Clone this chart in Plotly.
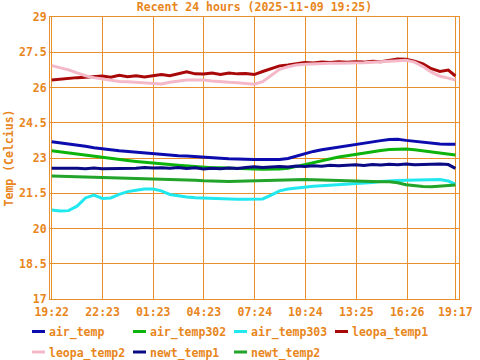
import plotly.graph_objects as go
from datetime import datetime, timedelta

# ---------------- data ----------------
TITLE = "Recent 24 hours (2025-11-09 19:25)"
START = datetime(2025, 11, 8, 19, 22)
# sample times (hours after start)
SAMPLE_HOURS = [i * 0.5 for i in range(48)] + [23.92]

air_temp = [
    23.69, 23.65, 23.60, 23.55, 23.50, 23.44, 23.38,
    23.35, 23.31, 23.28, 23.24, 23.20, 23.16, 23.14,
    23.12, 23.10, 23.08, 23.05, 23.03, 23.01, 22.99,
    22.97, 22.95, 22.94, 22.94, 22.94, 22.94, 22.94,
    22.98, 23.08, 23.21, 23.28, 23.35, 23.41, 23.47,
    23.53, 23.59, 23.64, 23.69, 23.74, 23.79, 23.80,
    23.75, 23.71, 23.67, 23.63, 23.60, 23.59, 23.58,
]
air_temp302 = [
    23.31, 23.26, 23.21, 23.17, 23.12, 23.07, 23.03,
    22.98, 22.94, 22.89, 22.85, 22.81, 22.78, 22.75,
    22.72, 22.69, 22.66, 22.63, 22.61, 22.59, 22.58,
    22.56, 22.55, 22.54, 22.53, 22.52, 22.52, 22.53,
    22.56, 22.64, 22.75, 22.83, 22.90, 22.97, 23.04,
    23.10, 23.16, 23.22, 23.27, 23.32, 23.36, 23.38,
    23.38, 23.35, 23.31, 23.27, 23.22, 23.18, 23.13,
]
air_temp303 = [
    20.79, 20.74, 20.76, 20.95, 21.30, 21.42, 21.28,
    21.30, 21.45, 21.57, 21.63, 21.68, 21.68, 21.60,
    21.45, 21.38, 21.34, 21.31, 21.29, 21.27, 21.25,
    21.24, 21.24, 21.24, 21.24, 21.26, 21.42, 21.60,
    21.68, 21.73, 21.77, 21.80, 21.82, 21.84, 21.86,
    21.88, 21.89, 21.92, 21.96, 22.00, 22.03, 22.04,
    22.05, 22.06, 22.08, 22.09, 22.08, 22.02, 21.89,
]
leopa_temp1 = [
    26.32, 26.36, 26.40, 26.42, 26.44, 26.47, 26.49,
    26.44, 26.52, 26.46, 26.50, 26.45, 26.49, 26.55,
    26.50, 26.58, 26.67, 26.58, 26.57, 26.62, 26.55,
    26.62, 26.58, 26.60, 26.55, 26.68, 26.80, 26.92,
    26.96, 27.02, 27.06, 27.04, 27.08, 27.06, 27.10,
    27.07, 27.10, 27.08, 27.12, 27.10, 27.15, 27.21,
    27.20, 27.12, 27.00, 26.80, 26.68, 26.74, 26.49,
]
leopa_temp2 = [
    26.93, 26.85, 26.75, 26.62, 26.50, 26.42, 26.36,
    26.30, 26.26, 26.24, 26.22, 26.21, 26.20, 26.15,
    26.22, 26.28, 26.32, 26.32, 26.32, 26.28, 26.24,
    26.22, 26.20, 26.17, 26.14, 26.25, 26.50, 26.77,
    26.88, 26.96, 26.99, 27.01, 27.03, 27.03, 27.03,
    27.03, 27.03, 27.05, 27.07, 27.09, 27.10, 27.13,
    27.16, 27.08, 26.89, 26.65, 26.48, 26.40, 26.32,
]
newt_temp1 = [
    22.56, 22.57, 22.55, 22.56, 22.54, 22.57, 22.54,
    22.55, 22.53, 22.57, 22.56, 22.60, 22.57, 22.59,
    22.56, 22.60, 22.55, 22.58, 22.53, 22.56, 22.54,
    22.57, 22.55, 22.60, 22.63, 22.60, 22.62, 22.64,
    22.62, 22.66, 22.64, 22.67, 22.65, 22.69, 22.67,
    22.70, 22.71, 22.68, 22.72, 22.70, 22.73, 22.71,
    22.74, 22.71, 22.73, 22.72, 22.74, 22.72, 22.56,
]
newt_temp2 = [
    22.23, 22.22, 22.22, 22.21, 22.20, 22.19, 22.18,
    22.17, 22.16, 22.15, 22.14, 22.12, 22.10, 22.09,
    22.08, 22.07, 22.06, 22.05, 22.03, 22.01, 21.99,
    22.00, 22.01, 22.02, 22.03, 22.05, 22.07, 22.08,
    22.09, 22.09, 22.08, 22.07, 22.06, 22.05, 22.03,
    22.01, 21.99, 21.99, 21.99, 21.99, 21.99, 21.95,
    21.86, 21.82, 21.79, 21.78, 21.80, 21.83, 21.85,
]

SERIES_NAMES = ["air_temp", "air_temp302", "air_temp303", "leopa_temp1",
                "leopa_temp2", "newt_temp1", "newt_temp2"]
SERIES_VALUES = [air_temp, air_temp302, air_temp303, leopa_temp1,
                 leopa_temp2, newt_temp1, newt_temp2]

X_TICK_TIMES = ["2025-11-08 19:22", "2025-11-08 22:23", "2025-11-09 01:23",
                "2025-11-09 04:23", "2025-11-09 07:24", "2025-11-09 10:24",
                "2025-11-09 13:25", "2025-11-09 16:26", "2025-11-09 19:17"]
X_TICK_LABELS = ["19:22", "22:23", "01:23", "04:23", "07:24", "10:24",
                 "13:25", "16:26", "19:17"]
Y_TICKS = [17, 18.5, 20, 21.5, 23, 24.5, 26, 27.5, 29]
Y_TICK_LABELS = ["17", "18.5", "20", "21.5", "23", "24.5", "26", "27.5", "29"]

# ---------------- style ----------------
COLORS = ["#0c0cae", "#0cb40c", "#20e8ee", "#a80808",
          "#f4b8c8", "#0a0a84", "#22a42a"]
ORANGE = "#e8861c"
GRID = "#e8902c"
FONT = dict(family="DejaVu Sans Mono", size=11.5, color=ORANGE, weight="bold")

W, H = 480, 360
ML, MR, MT, MB = 50, 21, 17, 61
PW, PH = W - ML - MR, H - MT - MB

times = [START + timedelta(hours=h) for h in SAMPLE_HOURS]

fig = go.Figure()
for name, vals, col in zip(SERIES_NAMES, SERIES_VALUES, COLORS):
    fig.add_trace(go.Scatter(x=times, y=vals, mode="lines", name=name,
                             line=dict(color=col, width=3),
                             showlegend=False))

# legend (drawn as a 4-column grid below the plot)
def px_x(px):
    return (px - ML) / PW

def px_y(py):
    return (H - MB - py) / PH

LEG_COL_X = [32, 133, 234, 335]
LEG_ROW_Y = [331.5, 352]
for i, (name, col) in enumerate(zip(SERIES_NAMES, COLORS)):
    cx = LEG_COL_X[i % 4]
    cy = LEG_ROW_Y[i // 4]
    fig.add_shape(type="line", xref="paper", yref="paper",
                  x0=px_x(cx), x1=px_x(cx + 13), y0=px_y(cy), y1=px_y(cy),
                  line=dict(color=col, width=3))
    fig.add_annotation(text=name, xref="paper", yref="paper",
                       x=px_x(cx + 15), y=px_y(cy + 1), xanchor="left",
                       yanchor="middle", showarrow=False, font=FONT)

fig.update_layout(
    width=W, height=H,
    margin=dict(l=ML, r=MR, t=MT, b=MB, autoexpand=False),
    paper_bgcolor="white", plot_bgcolor="white",
    font=FONT,
    title=dict(text=TITLE, x=0.5, xref="paper", xanchor="center",
               y=1 - 7 / H, yref="container", yanchor="middle",
               font=FONT),
    showlegend=False,
)
fig.update_xaxes(
    type="date", automargin=False,
    range=["2025-11-08 19:16", "2025-11-09 19:30"],
    tickmode="array", tickvals=X_TICK_TIMES, ticktext=X_TICK_LABELS,
    showgrid=True, gridcolor=GRID, gridwidth=1,
    showline=True, linecolor=GRID, linewidth=1, mirror=True,
    ticks="", tickfont=FONT, zeroline=False, ticklabelstandoff=2,
)
fig.update_yaxes(
    range=[17, 29], automargin=False,
    tickmode="array", tickvals=Y_TICKS, ticktext=Y_TICK_LABELS,
    showgrid=True, gridcolor=GRID, gridwidth=1,
    showline=True, linecolor=GRID, linewidth=1, mirror=True,
    ticks="", tickfont=FONT, zeroline=False,
    title=dict(text="Temp (Celcius)", font=FONT, standoff=2),
)

fig.write_html("out.html",
               config={"displayModeBar": False},
               post_script="document.body.style.margin='0';")
